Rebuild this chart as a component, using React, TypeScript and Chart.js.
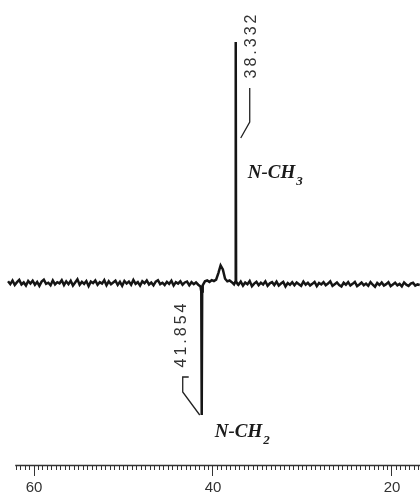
import React, { useEffect, useRef } from 'react';
import { Chart, registerables } from 'chart.js';

Chart.register(...registerables);

// chemical shift grid of the recorded baseline (ppm)
const PPM_START = 62.9;
const PPM_STEP = 0.25;
// baseline trace (arbitrary intensity units)
const baselineNoise = [
  0.6, -0.4, 0.9, -0.7, 0.3, 1.1, -0.5, 0.2, -0.9, 0.7,
  -0.2, 0.8, -0.6, 0.4, -1.0, 0.5, 1.2, -0.3, 0.1, -0.8,
  0.9, -0.5, 0.3, -0.1, 1.0, -0.7, 0.6, -0.4, 0.8, -0.9,
  0.2, 1.3, -0.6, 0.4, -0.3, 0.7, -1.1, 0.5, 0.0, 0.9,
  -0.6, 0.3, -0.2, 1.0, -0.8, 0.6, -0.4, 0.2, 0.8, -0.7,
  0.4, -1.0, 0.7, -0.2, 0.5, -0.6, 1.1, -0.3, 0.3, -0.9,
  0.6, -0.1, 0.9, -0.5, 0.2, -0.8, 0.5, 1.0, -0.4, 0.1,
  -0.7, 0.4, -0.3, 0.8, -0.9, 0.3, -0.2, 0.6, -0.6, 0.2,
  0.5, -0.8, 0.3, -0.4, 0.2, -0.6, -1.2, -0.8, 0.6, 0.9,
  0.4, 1.0, 0.7, 1.2, 3.5, 6.2, 4.8, 1.5, 0.6, 0.9,
  0.3, -0.5, 0.4, -0.6, 0.5, -0.9, 0.2, -0.4, 0.7, -1.1,
  -0.2, 0.4, -0.8, 0.1, -0.5, 0.6, -1.0, -0.1, 0.3, -0.7,
  0.5, -0.9, -0.2, 0.4, -1.2, 0.0, -0.6, 0.3, -0.8, 0.2,
  -0.4, -1.0, 0.5, -0.6, 0.1, -0.9, -0.3, 0.4, -1.1, 0.0,
  -0.5, 0.3, -0.8, -0.2, 0.6, -1.0, -0.4, 0.2, -0.7, -1.2,
  0.1, -0.6, 0.3, -0.9, -0.3, 0.4, -1.1, -0.5, 0.2, -0.8,
  -0.2, -1.0, 0.3, -0.6, -1.3, 0.0, -0.7, 0.2, -0.9, -0.4,
  0.3, -1.1, -0.5, 0.1, -0.8, -0.3, -1.2, 0.2, -0.6, -1.0,
  -0.2, 0.1, -0.9, -0.5, -0.7,
];

// resonances (ppm, intensity)
const signalPpm = [41.31, 41.26, 41.21, 37.5, 37.46, 37.42];
const signalIntensity = [-3, -46.6, -3, 0.5, 85.2, 0.5];

// annotations
const peakPositions = [41.26, 37.46];
const peakLabels = ['41.854', '38.332'];
const groupNames = ['N-CH', 'N-CH'];
const groupSubscripts = ['2', '3'];

// axis
const axisLabels = [60, 40, 20];
const TICK_FIRST = 62;
const TICK_LAST = 17;
const TICK_STEP = 0.5;
const AXIS_START = 62.1;
const X_MIN = 16.87;
const X_MAX = 63.8;
const Y_MIN = -64.3;
const Y_MAX = 100;

const isMajor = (v: number) => axisLabels.some((a) => Math.abs(a - v) < 1e-6);

const annotationPlugin = {
  id: 'nmrAnnotations',
  afterDraw(chart: any) {
    const { ctx, chartArea } = chart;
    const xs = chart.scales.x;
    ctx.save();
    // axis line
    ctx.strokeStyle = '#333';
    ctx.lineWidth = 1.5;
    ctx.beginPath();
    ctx.moveTo(xs.getPixelForValue(AXIS_START), chartArea.bottom + 0.5);
    ctx.lineTo(chartArea.right, chartArea.bottom + 0.5);
    ctx.stroke();

    const negX = xs.getPixelForValue(peakPositions[0]);
    const posX = xs.getPixelForValue(peakPositions[1]);

    // leaders
    ctx.strokeStyle = '#222';
    ctx.lineWidth = 1.3;
    ctx.beginPath();
    ctx.moveTo(negX - 13, 377);
    ctx.lineTo(negX - 19, 377);
    ctx.lineTo(negX - 19, 392);
    ctx.lineTo(negX - 2, 415);
    ctx.stroke();
    ctx.beginPath();
    ctx.moveTo(posX + 14, 88);
    ctx.lineTo(posX + 14, 122);
    ctx.lineTo(posX + 5, 138);
    ctx.stroke();

    // rotated shift labels
    ctx.fillStyle = '#333';
    ctx.font = '16px "Liberation Sans"';
    (ctx as any).letterSpacing = '3px';
    ctx.textAlign = 'center';
    ctx.textBaseline = 'middle';
    const drawRot = (t: string, cx: number, cy: number) => {
      ctx.save();
      ctx.translate(cx, cy);
      ctx.rotate(-Math.PI / 2);
      ctx.fillText(t, 0, 0);
      ctx.restore();
    };
    drawRot(peakLabels[0], negX - 20, 334);
    drawRot(peakLabels[1], posX + 16, 45);
    (ctx as any).letterSpacing = '0px';

    // group labels
    ctx.fillStyle = '#1a1a1a';
    ctx.textAlign = 'left';
    ctx.textBaseline = 'alphabetic';
    const drawGroup = (name: string, sub: string, x: number, y: number) => {
      ctx.font = 'italic bold 19px "Liberation Serif"';
      ctx.fillText(name, x, y);
      const w = ctx.measureText(name).width;
      ctx.font = 'italic bold 13px "Liberation Serif"';
      ctx.fillText(sub, x + w + 1, y + 7);
    };
    drawGroup(groupNames[0], groupSubscripts[0], negX + 13, 437);
    drawGroup(groupNames[1], groupSubscripts[1], posX + 12, 178);
    ctx.restore();
  },
};

export default function App() {
  const canvasRef = useRef<HTMLCanvasElement | null>(null);

  useEffect(() => {
    const points: { x: number; y: number }[] = baselineNoise.map((v, i) => ({
      x: PPM_START - i * PPM_STEP,
      y: v,
    }));
    signalPpm.forEach((p, i) => points.push({ x: p, y: signalIntensity[i] }));
    points.sort((a, b) => b.x - a.x);

    const tickValues: number[] = [];
    for (let v = TICK_FIRST; v >= TICK_LAST - 1e-9; v -= TICK_STEP) tickValues.push(Math.round(v * 10) / 10);

    const chart = new Chart(canvasRef.current as HTMLCanvasElement, {
      type: 'line',
      data: {
        datasets: [
          {
            data: points,
            borderColor: '#151515',
            borderWidth: 2.5,
            pointRadius: 0,
            tension: 0,
            fill: false,
          },
        ],
      },
      options: {
        animation: false,
        responsive: true,
        maintainAspectRatio: false,
        parsing: false as any,
        layout: { padding: 0 },
        plugins: { legend: { display: false }, tooltip: { enabled: false } },
        scales: {
          x: {
            type: 'linear',
            reverse: true,
            min: X_MIN,
            max: X_MAX,
            afterBuildTicks: (scale: any) => {
              scale.ticks = tickValues.map((v) => ({ value: v }));
            },
            ticks: {
              autoSkip: false,
              maxRotation: 0,
              padding: 1,
              color: '#333',
              font: { family: '"Liberation Sans"', size: 15, lineHeight: 1.2 },
              callback: (v: any) => (isMajor(Number(v)) ? String(v) : ''),
            },
            grid: {
              display: true,
              drawOnChartArea: false,
              drawTicks: true,
              tickLength: 13,
              tickColor: '#333',
              tickWidth: 1,
              tickBorderDash: (c: any) => (c.tick && isMajor(c.tick.value) ? [11, 40] : [5, 40]),
            },
            border: { display: false },
          },
          y: {
            type: 'linear',
            display: false,
            min: Y_MIN,
            max: Y_MAX,
          },
        },
      },
      plugins: [annotationPlugin],
    });
    return () => chart.destroy();
  }, []);

  return (
    <div style={{ position: 'fixed', left: 0, top: 0, width: 420, height: 498, background: '#fff' }}>
      <canvas ref={canvasRef} />
    </div>
  );
}
